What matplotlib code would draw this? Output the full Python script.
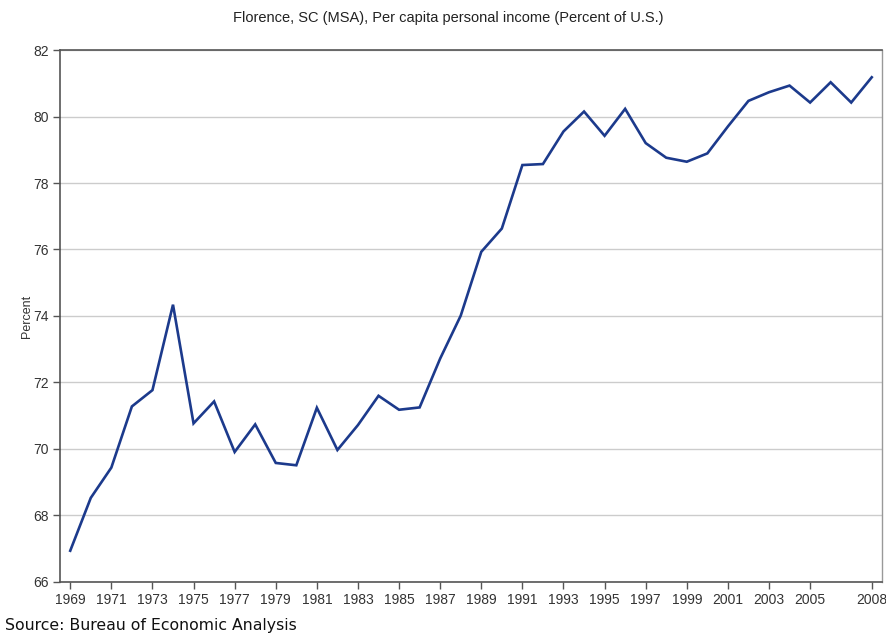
import matplotlib
matplotlib.use("Agg")
from matplotlib import pyplot as plt

# Florence, SC (MSA) per capita personal income, percent of U.S.
years = list(range(1969, 2009))
percent = [66.94, 68.53, 69.44, 71.28, 71.77, 74.34, 70.77, 71.43, 69.91, 70.74,
           69.58, 69.51, 71.24, 69.97, 70.72, 71.60, 71.18, 71.25, 72.72, 74.01,
           75.93, 76.63, 78.54, 78.57, 79.55, 80.15, 79.42, 80.23, 79.20, 78.76,
           78.64, 78.89, 79.70, 80.47, 80.73, 80.93, 80.42, 81.03, 80.42, 81.18]
x_ticks = list(range(1969, 2006, 2)) + [2008]
y_ticks = list(range(66, 83, 2))

plt.rcParams["font.family"] = ["Liberation Sans", "DejaVu Sans"]

figure = plt.figure(figsize=(8.87, 6.33), dpi=100)
axes = figure.add_axes([0.0676, 0.0806, 0.9268, 0.8404])

axes.plot(years, percent, color="#1c3a8c", linewidth=1.9, solid_joinstyle="miter")

axes.set_xlim(1968.5, 2008.5)
axes.set_ylim(66, 82)
axes.set_xticks(x_ticks)
axes.set_yticks(y_ticks)
axes.tick_params(axis="both", labelsize=10, color="#555555", labelcolor="#333333",
                 direction="out", length=5, width=1)
axes.tick_params(axis="y", pad=3)
axes.tick_params(axis="x", pad=3)

# horizontal grid only
axes.yaxis.grid(True, color="#cccccc", linewidth=1)
axes.set_axisbelow(True)

for side in ["left", "bottom", "top"]:
    axes.spines[side].set_color("#555555")
    axes.spines[side].set_linewidth(1.2)
axes.spines["right"].set_color("#999999")
axes.spines["right"].set_linewidth(1)

axes.set_ylabel("Percent", fontsize=9, color="#333333", labelpad=0)
figure.text(0.505, 0.972, "Florence, SC (MSA), Per capita personal income (Percent of U.S.)",
            ha="center", va="center", fontsize=10.5, color="#222222")
figure.text(0.006, 0.012, "Source: Bureau of Economic Analysis",
            ha="left", va="center", fontsize=11.3, color="#111111", family="DejaVu Sans")

figure.savefig("out.png", dpi=100)
